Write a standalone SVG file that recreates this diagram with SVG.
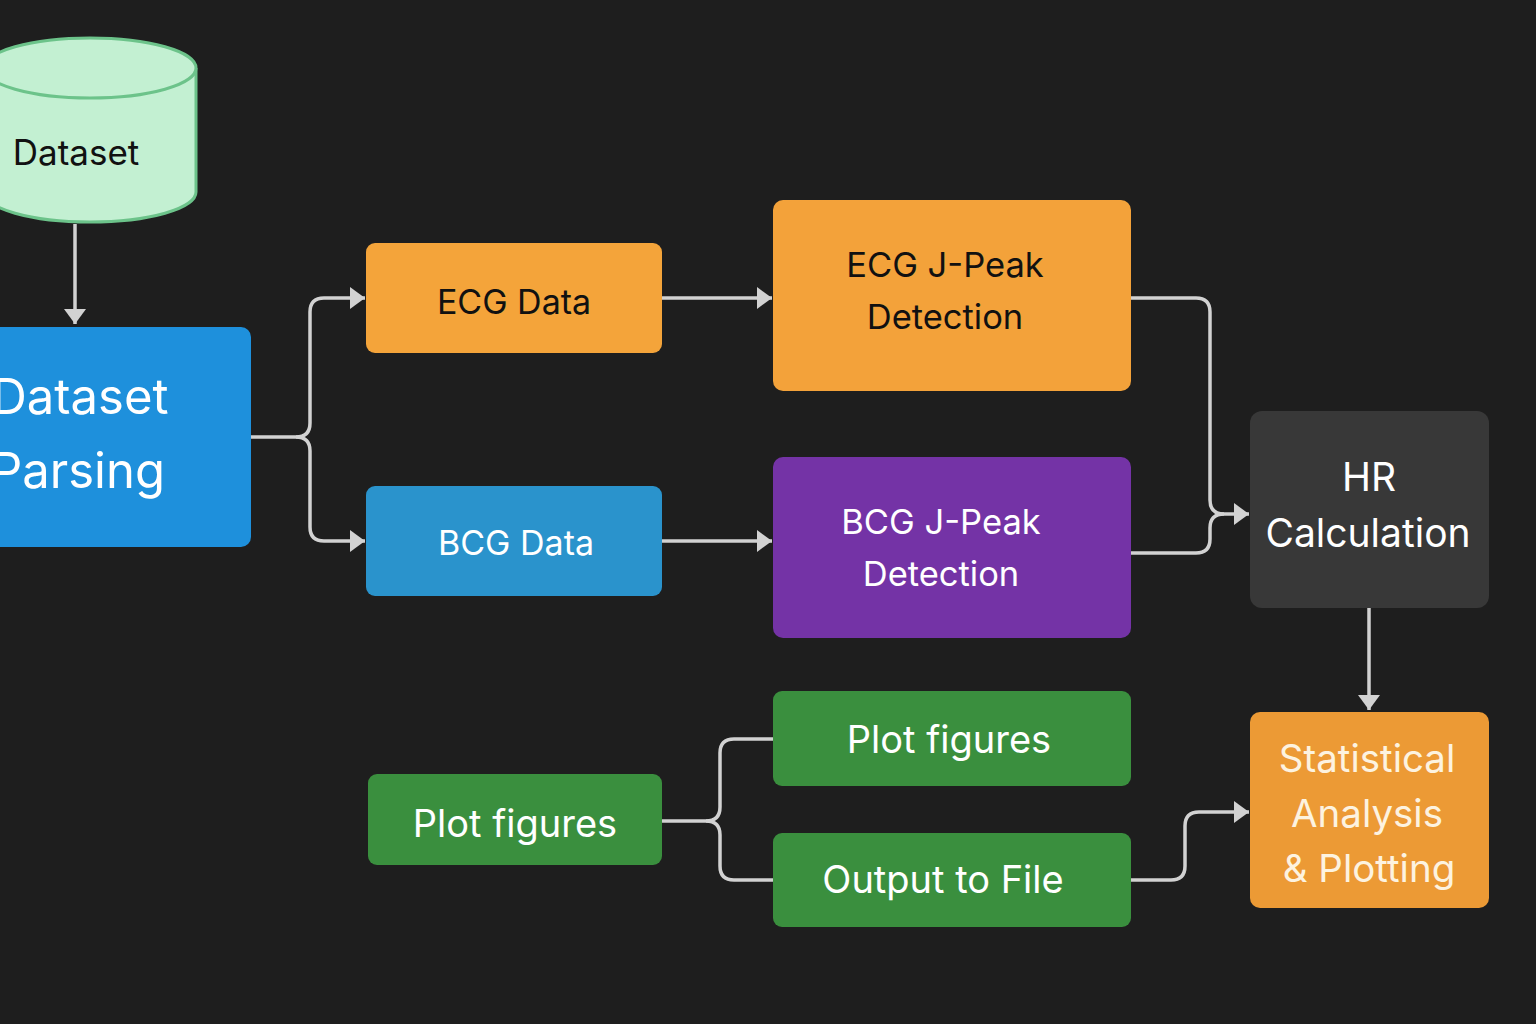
<svg xmlns="http://www.w3.org/2000/svg" width="1536" height="1024" viewBox="0 0 1536 1024">
<defs>
<marker id="ah" markerUnits="userSpaceOnUse" markerWidth="16" markerHeight="22" refX="15" refY="11" orient="auto">
<path d="M0,0 L15,11 L0,22 z" fill="#d2d2d2"/>
</marker>
<style>
.bg{fill:#1e1e1e}
.c{fill:none;stroke:#d2d2d2;stroke-width:3.5;stroke-linejoin:round}
.t{font-family:Inter,"Noto Sans","Liberation Sans",sans-serif;text-anchor:middle}
.w{fill:#ffffff}
.k{fill:#111111}
</style>
</defs>
<rect class="bg" x="0" y="0" width="1536" height="1024"/>

<g id="connectors">
<path class="c" d="M75,224 L75,324" marker-end="url(#ah)"/>
<path class="c" d="M251,437 L296,437 Q310,437 310,423 L310,312 Q310,298 324,298 L365,298" marker-end="url(#ah)"/>
<path class="c" d="M296,437 Q310,437 310,451 L310,527 Q310,541 324,541 L365,541" marker-end="url(#ah)"/>
<path class="c" d="M662,298 L772,298" marker-end="url(#ah)"/>
<path class="c" d="M662,541 L772,541" marker-end="url(#ah)"/>
<path class="c" d="M1131,298 L1196,298 Q1210,298 1210,312 L1210,500 Q1210,514 1224,514 L1249,514" marker-end="url(#ah)"/>
<path class="c" d="M1131,553 L1196,553 Q1210,553 1210,539 L1210,528 Q1210,514 1224,514"/>
<path class="c" d="M1369,608 L1369,710" marker-end="url(#ah)"/>
<path class="c" d="M662,821 L706,821 Q720,821 720,807 L720,753 Q720,739 734,739 L773,739"/>
<path class="c" d="M706,821 Q720,821 720,835 L720,866 Q720,880 734,880 L773,880"/>
<path class="c" d="M1131,880 L1171,880 Q1185,880 1185,866 L1185,826 Q1185,812 1199,812 L1249,812" marker-end="url(#ah)"/>
</g>

<g id="dataset">
<path d="M-16,68 L-16,192 A106,30 0 0 0 196,192 L196,68" fill="#c3f0d2" stroke="#6cc38a" stroke-width="3"/>
<ellipse cx="90" cy="68" rx="106" ry="30" fill="#c3f0d2" stroke="#6cc38a" stroke-width="3"/>
<text class="t k" x="76" y="165" font-size="35">Dataset</text>
</g>

<g id="parsing">
<rect x="-20" y="327" width="271" height="220" rx="10" fill="#1e90dc"/>
<text class="t w" x="80" y="414" font-size="49">Dataset</text>
<text class="t w" x="78" y="488" font-size="49">Parsing</text>
</g>

<g id="ecgdata">
<rect x="366" y="243" width="296" height="110" rx="9" fill="#f4a43a"/>
<text class="t k" x="514" y="314" font-size="34">ECG Data</text>
</g>

<g id="bcgdata">
<rect x="366" y="486" width="296" height="110" rx="9" fill="#2a93cc"/>
<text class="t w" x="516" y="555" font-size="34">BCG Data</text>
</g>

<g id="ecgpeak">
<rect x="773" y="200" width="358" height="191" rx="10" fill="#f3a23a"/>
<text class="t k" x="945" y="277" font-size="34.5">ECG J-Peak</text>
<text class="t k" x="945" y="329" font-size="34.5">Detection</text>
</g>

<g id="bcgpeak">
<rect x="773" y="457" width="358" height="181" rx="10" fill="#7433a6"/>
<text class="t w" x="941" y="534" font-size="34.5">BCG J-Peak</text>
<text class="t w" x="941" y="586" font-size="34.5">Detection</text>
</g>

<g id="hr">
<rect x="1250" y="411" width="239" height="197" rx="12" fill="#383838"/>
<text class="t w" x="1369" y="491" font-size="39">HR</text>
<text class="t w" x="1368" y="547" font-size="39">Calculation</text>
</g>

<g id="stats">
<rect x="1250" y="712" width="239" height="196" rx="10" fill="#ec9a35"/>
<text class="t" fill="#fdf3e0" x="1367" y="772" font-size="38.5">Statistical</text>
<text class="t" fill="#fdf3e0" x="1367" y="827" font-size="38.5">Analysis</text>
<text class="t" fill="#fdf3e0" x="1369" y="882" font-size="38.5">&amp; Plotting</text>
</g>

<g id="plotleft">
<rect x="368" y="774" width="294" height="91" rx="9" fill="#3a8f3e"/>
<text class="t w" x="515" y="837" font-size="38">Plot figures</text>
</g>

<g id="plotright">
<rect x="773" y="691" width="358" height="95" rx="9" fill="#3a8f3e"/>
<text class="t w" x="949" y="753" font-size="38">Plot figures</text>
</g>

<g id="output">
<rect x="773" y="833" width="358" height="94" rx="9" fill="#3a8f3e"/>
<text class="t w" x="943" y="893" font-size="38">Output to File</text>
</g>
</svg>
